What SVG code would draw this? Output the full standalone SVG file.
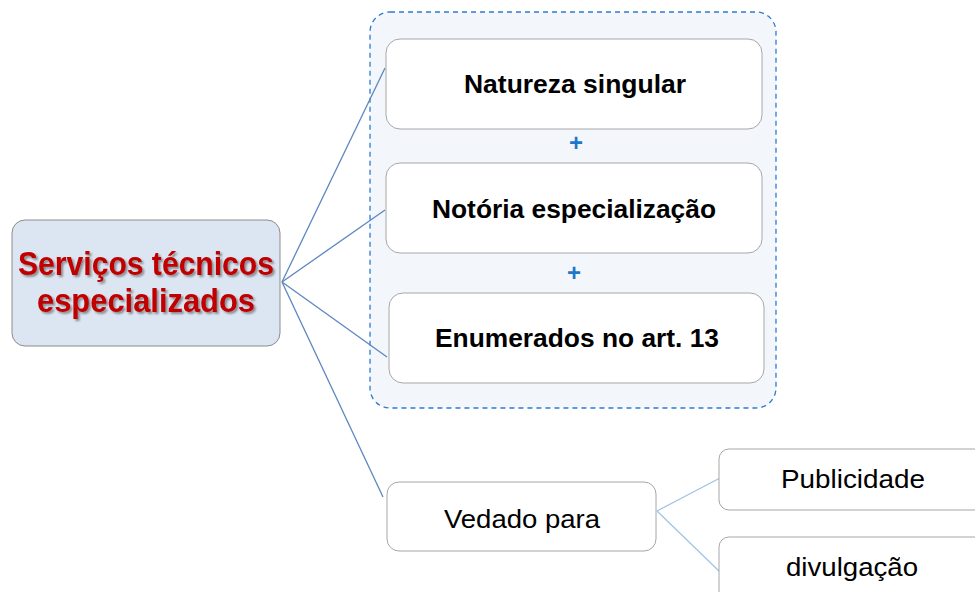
<svg xmlns="http://www.w3.org/2000/svg" width="975" height="592" viewBox="0 0 975 592">
<defs>
<filter id="ts" x="-10%" y="-20%" width="120%" height="140%">
<feGaussianBlur in="SourceAlpha" stdDeviation="1.2"/>
<feOffset dx="1.5" dy="1.5" result="b"/>
<feComponentTransfer><feFuncA type="linear" slope="0.4"/></feComponentTransfer>
<feMerge><feMergeNode/><feMergeNode in="SourceGraphic"/></feMerge>
</filter>
</defs>
<style>
.box{fill:#ffffff;stroke:#a6a6a6;stroke-width:1}
.t{font-family:"Liberation Sans",Arial,sans-serif;text-anchor:middle;dominant-baseline:central}
.b{font-weight:bold;fill:#000;font-size:25px}
.n{fill:#000;font-size:25px}
.plus{font-family:"Liberation Sans",Arial,sans-serif;font-weight:bold;fill:#1f77c9;font-size:24px;text-anchor:middle;dominant-baseline:central}
.c1{stroke:#5b87c0;stroke-width:1.3;fill:none}
.c2{stroke:#9dc3e6;stroke-width:1.2;fill:none}
</style>
<rect width="975" height="592" fill="#ffffff"/>
<g id="group-container">
<rect x="370" y="12" width="406" height="396" rx="20" fill="#f3f7fc" stroke="#2e7bd0" stroke-width="1.3" stroke-dasharray="5,4"/>
</g>
<g id="connectors">
<line class="c1" x1="282" y1="282" x2="385" y2="68"/>
<line class="c1" x1="282" y1="282" x2="385" y2="210"/>
<line class="c1" x1="282" y1="282" x2="387" y2="357"/>
<line class="c1" x1="282" y1="282" x2="383" y2="497"/>
<line class="c2" x1="657" y1="511" x2="720" y2="478"/>
<line class="c2" x1="657" y1="511" x2="720" y2="572"/>
</g>
<g id="main">
<rect x="12" y="220" width="268" height="126" rx="13" fill="#dce6f2" stroke="#8c8c8c" stroke-width="1"/>
<g filter="url(#ts)">
<text class="t" x="146" y="263" font-size="34" font-weight="bold" fill="#c00000" textLength="256" lengthAdjust="spacingAndGlyphs">Serviços técnicos</text>
<text class="t" x="146" y="300" font-size="34" font-weight="bold" fill="#c00000" textLength="218" lengthAdjust="spacingAndGlyphs">especializados</text>
</g>
</g>
<g id="natureza">
<rect class="box" x="386" y="39" width="376" height="90" rx="14"/>
<text class="t b" x="575" y="84" textLength="222" lengthAdjust="spacingAndGlyphs">Natureza singular</text>
</g>
<text class="plus" x="576" y="142">+</text>
<g id="notoria">
<rect class="box" x="386" y="163" width="376" height="90" rx="14"/>
<text class="t b" x="574" y="209" textLength="284" lengthAdjust="spacingAndGlyphs">Notória especialização</text>
</g>
<text class="plus" x="574" y="272">+</text>
<g id="enumerados">
<rect class="box" x="389" y="293" width="375" height="90" rx="14"/>
<text class="t b" x="577" y="338" textLength="284" lengthAdjust="spacingAndGlyphs">Enumerados no art. 13</text>
</g>
<g id="vedado">
<rect class="box" x="387" y="482" width="269" height="69" rx="12"/>
<text class="t n" x="522" y="519" textLength="156" lengthAdjust="spacingAndGlyphs">Vedado para</text>
</g>
<g id="publicidade">
<rect class="box" x="719" y="449" width="270" height="61" rx="10"/>
<text class="t n" x="853" y="479" textLength="144" lengthAdjust="spacingAndGlyphs">Publicidade</text>
</g>
<g id="divulgacao">
<rect class="box" x="719" y="537" width="270" height="70" rx="10"/>
<text class="t n" x="852" y="567" textLength="132" lengthAdjust="spacingAndGlyphs">divulgação</text>
</g>
</svg>
